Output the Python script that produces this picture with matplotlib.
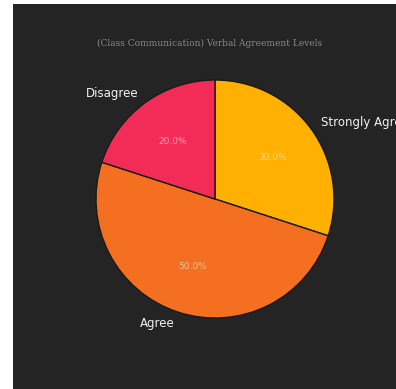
import matplotlib.pyplot as plt
from matplotlib.patches import Rectangle

# Response shares (clockwise from 12 o'clock)
levels = ['Strongly Agree', 'Agree', 'Disagree']
shares = [30, 50, 20]
colors = ['#FFB000', '#F47020', '#F22B57']

fig = plt.figure(figsize=(3.96, 3.89), dpi=100, facecolor='white')

# dark panel behind the chart
fig.patches.append(Rectangle((13 / 396, 0), 1 - 13 / 396, 1 - 4 / 389,
                             transform=fig.transFigure, facecolor='#242424',
                             edgecolor='none', zorder=-1))

ax = fig.add_axes([0.1673, 0.106, 0.7513, 0.7648])
ax.set_facecolor('none')

wedges, texts, autotexts = ax.pie(
    shares, labels=levels, colors=colors, startangle=90, counterclock=False,
    autopct='%1.1f%%', pctdistance=0.6, labeldistance=1.1,
    wedgeprops=dict(edgecolor='#1a1a1a', linewidth=1.0),
    textprops=dict(color='white', fontsize=8.5))

for t in texts:
    t.set_fontweight('medium')
    t.set_color('#f2f2f2')
for t in autotexts:
    t.set_fontsize(6.5)
    t.set_color('white')
    t.set_alpha(0.55)

fig.text(210 / 396, 1 - 43 / 389, '(Class Communication) Verbal Agreement Levels',
         ha='center', va='center', fontsize=6.5, family='DejaVu Serif',
         color='#8a8a8a')

fig.savefig('out.png', dpi=100, facecolor=fig.get_facecolor())
